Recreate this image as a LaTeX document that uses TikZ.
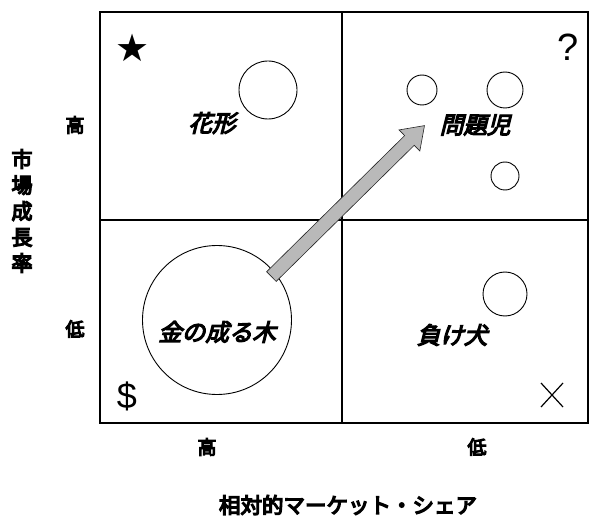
\documentclass[tikz,border=0pt]{standalone}
\usepackage{fontspec}
\newfontfamily\cjkb{Noto Sans CJK JP}
\newfontfamily\cjkbi[FakeSlant=0.25]{Noto Sans CJK JP}
\newfontfamily\symfont{DejaVu Sans}
\newfontfamily\thinfont{Liberation Sans}
\newcommand\fatten[2]{\special{pdf:literal direct 2 Tr #1 w}#2\special{pdf:literal direct 0 Tr}}
\usetikzlibrary{shapes.arrows,patterns,calc}
\tikzset{
  bubble/.style={circle,draw,line width=0.9pt,inner sep=0pt},
  qlabel/.style={font=\cjkbi\fontsize{23.5}{23.5}\selectfont,inner sep=0pt},
  axlabel/.style={font=\cjkb\fontsize{19}{19}\selectfont,inner sep=0pt},
  axtitle/.style={font=\cjkb\fontsize{21.5}{21.5}\selectfont,inner sep=0pt},
  sym/.style={inner sep=0pt}
}
\begin{document}
\begin{tikzpicture}[x=1pt,y=-1pt]
\useasboundingbox (0,0) rectangle (590,516);
% grid
\draw[line width=1.2pt] (342,12) -- (342,423);
\draw[line width=1.2pt] (100,220) -- (588,220);
\draw[line width=2.6pt] (100,12) rectangle (588,423);
% bubbles
\node[bubble,minimum size=58pt] (s1) at (268,90) {};
\node[bubble,minimum size=30pt] (q1) at (422,90) {};
\node[bubble,minimum size=36pt] (q2) at (505,90) {};
\node[bubble,minimum size=28pt] (q3) at (505,176) {};
\node[bubble,minimum size=149pt] (c1) at (217,320) {};
\node[bubble,minimum size=44pt] (d1) at (505,294) {};
% quadrant labels
\node[qlabel] (lstar) at (212,123) {\fatten{1.2}{花形}};
\node[qlabel] (lq) at (475,125) {\fatten{1.2}{問題児}};
\node[qlabel] (lcow) at (217,332) {\fatten{1.2}{金の成る木}};
\node[qlabel] (ldog) at (452,335) {\fatten{1.2}{負け犬}};
% symbols
\node[sym,font=\symfont\fontsize{38}{38}\selectfont] (star) at (133,48) {★};
\node[sym,font=\thinfont\fontsize{38}{38}\selectfont] (qm) at (568,47) {?};
\node[sym,font=\thinfont\fontsize{36}{36}\selectfont] (dol) at (127,396) {\$};
\coordinate (xc) at (552,395);
\draw[line width=1.2pt] ([shift={(-11,-12)}]xc) -- ([shift={(11,12)}]xc);
\draw[line width=1.2pt] ([shift={(-11,12)}]xc) -- ([shift={(11,-12)}]xc);
% arrow
\coordinate (as) at (268,280);
\coordinate (ae) at (421,129);
\node[single arrow,draw=black!85,line width=0.6pt,fill=gray!55,
      minimum height=215pt,inner xsep=0pt,inner ysep=6.5pt,single arrow head extend=8pt,
      single arrow tip angle=70,rotate=44.6] (arr) at ($(as)!0.5!(ae)$) {};
% axes labels
\node[axlabel] (yh) at (75,125) {\fatten{1.1}{高}};
\node[axlabel] (yl) at (75,329) {\fatten{1.1}{低}};
\node[axlabel] (xh) at (207,447) {\fatten{1.1}{高}};
\node[axlabel] (xl) at (477,447) {\fatten{1.1}{低}};
\node[axtitle,align=center,font=\cjkb\fontsize{21}{26}\selectfont] (ytitle) at (22,211) {\fatten{1.3}{市}\\\fatten{1.3}{場}\\\fatten{1.3}{成}\\\fatten{1.3}{長}\\\fatten{1.3}{率}};
\node[axtitle] (xtitle) at (348,505) {\fatten{1.3}{相対的マーケット・シェア}};
\end{tikzpicture}
\end{document}
